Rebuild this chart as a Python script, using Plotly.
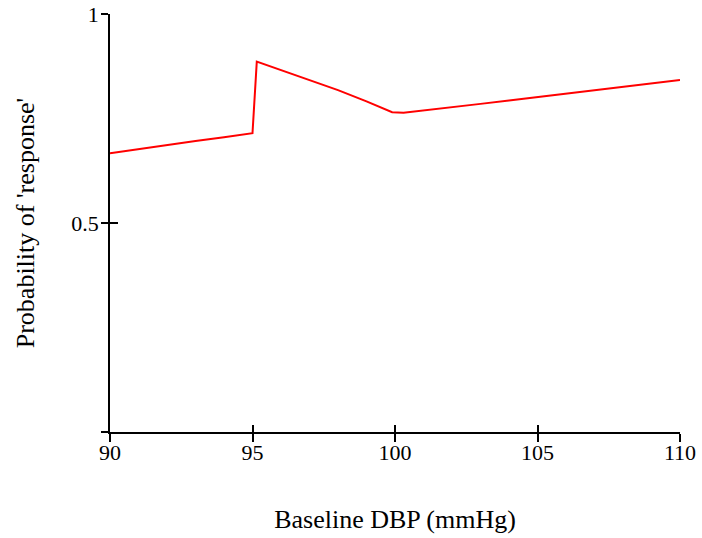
import plotly.graph_objects as go

# Data
dbp = [90, 91, 92, 93, 94, 95.0, 95.15, 96, 97, 98, 99, 99.9, 100.3,
       101, 102, 103, 104, 105, 106, 107, 108, 109, 110]
prob = [0.667, 0.677, 0.686, 0.696, 0.705, 0.715, 0.886, 0.866, 0.843, 0.818,
        0.791, 0.765, 0.764, 0.769, 0.777, 0.785, 0.793, 0.801, 0.809, 0.817,
        0.825, 0.834, 0.842]

x_ticks = [90, 95, 100, 105, 110]
x_labels = ["90", "95", "100", "105", "110"]
y_ticks = [0, 0.5, 1]
y_labels = ["", "0.5", "1"]

FONT = "Liberation Serif"

fig = go.Figure()
fig.add_trace(go.Scatter(x=dbp, y=prob, mode="lines",
                         line=dict(color="#ff0000", width=2),
                         showlegend=False, hoverinfo="skip"))
# invisible trace to activate overlay axes (cross ticks)
fig.add_trace(go.Scatter(x=dbp, y=prob, mode="lines", xaxis="x2", yaxis="y2",
                         line=dict(color="rgba(0,0,0,0)", width=0),
                         showlegend=False, hoverinfo="skip"))

axis_common = dict(showgrid=False, zeroline=False, showline=True,
                   linecolor="black", linewidth=1.5, tickcolor="black",
                   tickwidth=1.5, automargin=False)

fig.update_layout(
    width=702, height=538,
    margin=dict(l=110, r=22, t=14, b=106, autoexpand=False),
    paper_bgcolor="white", plot_bgcolor="white",
    font=dict(family=FONT, color="black", size=22),
    xaxis=dict(range=[90, 110], tickmode="array", tickvals=x_ticks,
               ticktext=x_labels, ticks="outside", ticklen=8,
               ticklabelstandoff=-8,
               tickfont=dict(size=22, family=FONT),
               title=dict(text="Baseline DBP (mmHg)", standoff=46,
                          font=dict(size=26, family=FONT)),
               **axis_common),
    yaxis=dict(range=[0, 1], tickmode="array", tickvals=y_ticks,
               ticktext=y_labels, ticks="outside", ticklen=7,
               ticklabelstandoff=-2,
               tickfont=dict(size=22, family=FONT),
               title=dict(text="Probability of 'response'", standoff=29,
                          font=dict(size=26, family=FONT)),
               **axis_common),
    xaxis2=dict(range=[90, 110], overlaying="x", matches="x", tickmode="array",
                tickvals=x_ticks, showticklabels=False, ticks="inside",
                ticklen=7, side="bottom", anchor="y2", **axis_common),
    yaxis2=dict(range=[0, 1], overlaying="y", matches="y", tickmode="array",
                tickvals=y_ticks, showticklabels=False, ticks="inside",
                ticklen=8, side="left", anchor="x2", **axis_common),
)

fig.write_html("out.html", config={"displayModeBar": False},
               post_script="document.body.style.margin='0';")
